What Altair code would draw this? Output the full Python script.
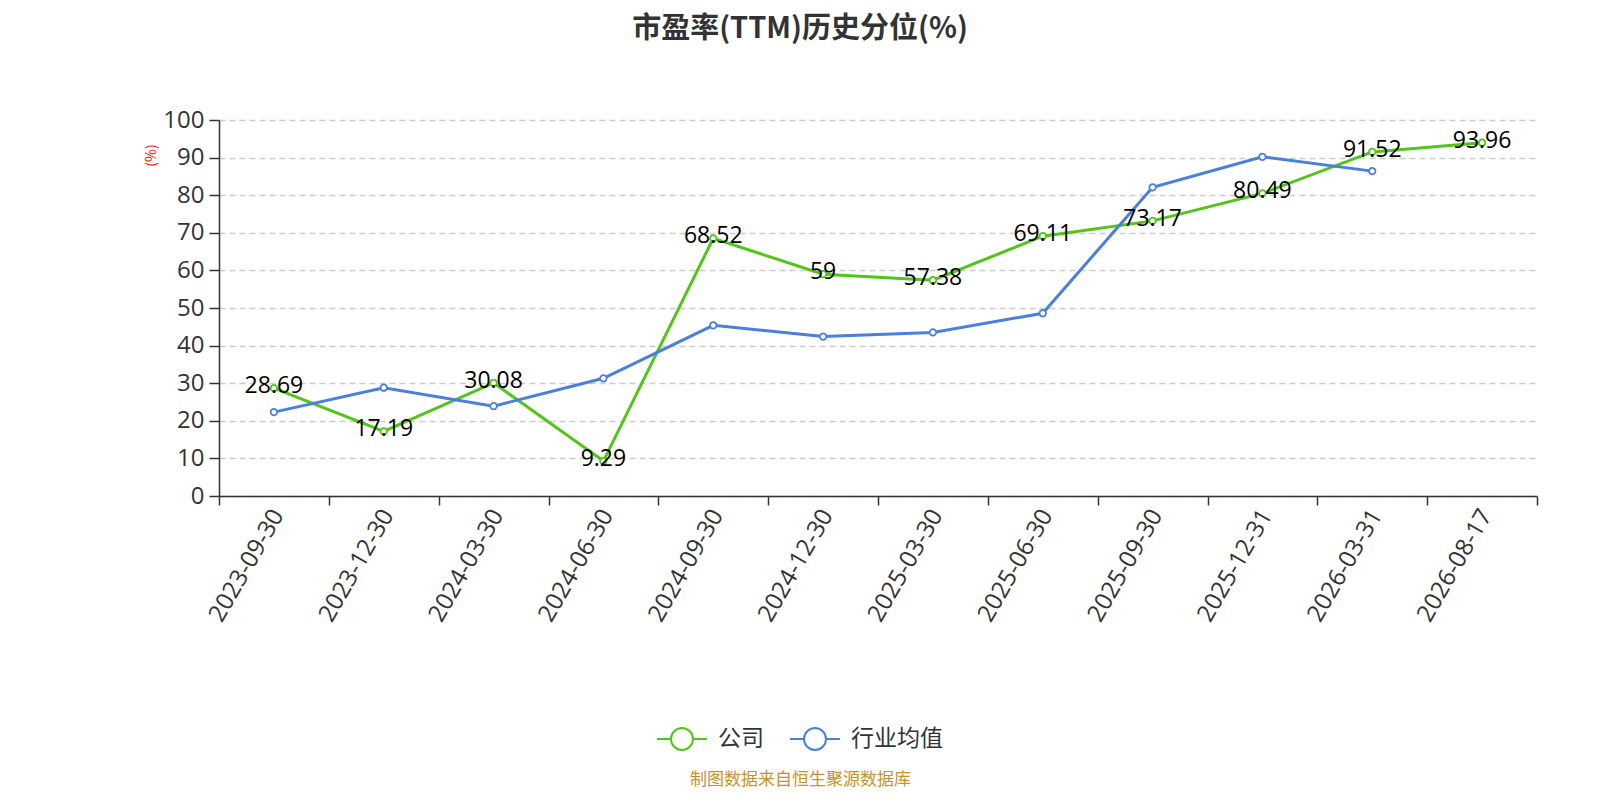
import altair as alt
import pandas as pd

dates = ["2023-09-30", "2023-12-30", "2024-03-30", "2024-06-30", "2024-09-30",
         "2024-12-30", "2025-03-30", "2025-06-30", "2025-09-30", "2025-12-31",
         "2026-03-31", "2026-08-17"]
company = [28.69, 17.19, 30.08, 9.29, 68.52, 59, 57.38, 69.11, 73.17, 80.49, 91.52, 93.96]
industry = [22.3, 28.8, 23.9, 31.3, 45.4, 42.4, 43.5, 48.6, 82.1, 90.2, 86.4]

series_names = ["公司", "行业均值"]
colors = ["#52c41a", "#4a7fe0"]

rows = []
for d, v in zip(dates, company):
    rows.append({"date": d, "value": v, "series": series_names[0]})
for d, v in zip(dates, industry):
    rows.append({"date": d, "value": v, "series": series_names[1]})
df = pd.DataFrame(rows)

CJK = "Noto Sans CJK SC"
NUM = "Open Sans, Noto Sans CJK SC"

legend_symbol = ("M-1,0L-0.46,0M0.46,0L1,0"
                 "M0.44,0A0.44,0.44 0 1 1 -0.44,0A0.44,0.44 0 1 1 0.44,0Z")

x_enc = alt.X(
    "date:O", sort=dates,
    scale=alt.Scale(type="band", paddingInner=0, paddingOuter=0),
    bandPosition=0.5,
    axis=alt.Axis(
        title="制图数据来自恒生聚源数据库",
        titleColor="#c8922a", titleFontSize=17, titleFontWeight="normal", titleFont=CJK,
        titleX=581, titleY=283, titleAnchor="middle", titleBaseline="middle",
        labelAngle=-60, labelAlign="right", labelBaseline="middle",
        labelFontSize=24, labelColor="#333333", labelPadding=6, labelOffset=4, labelFont=NUM,
        tickBand="extent", tickSize=9, tickColor="#333333", tickWidth=1.5,
        domainColor="#333333", domainWidth=1.5, grid=False,
    ),
)

y_enc = alt.Y(
    "value:Q",
    scale=alt.Scale(domain=[0, 100]),
    axis=alt.Axis(
        values=list(range(0, 101, 10)),
        title="(%)", titleColor="red", titleFontSize=14, titleFontWeight="normal", titleFont=CJK,
        titleAngle=-90, titleX=-61, titleY=35, titleAnchor="middle",
        labelFontSize=24, labelColor="#333333", labelPadding=5, labelFont=NUM,
        tickSize=10, tickColor="#333333", tickWidth=1.5, domainColor="#333333", domainWidth=1.5,
        grid=True, gridDash=[6, 4], gridColor="#cccccc", gridWidth=1.3,
    ),
)

color_enc = alt.Color(
    "series:N",
    scale=alt.Scale(domain=series_names, range=colors),
    legend=alt.Legend(
        title=None, orient="none", direction="horizontal",
        legendX=437, legendY=593,
        symbolType=legend_symbol, symbolSize=2500, symbolStrokeWidth=2,
        symbolFillColor="white", labelFontSize=23, labelColor="#333333",
        labelFont=CJK, columnPadding=22, labelOffset=10,
    ),
)

base = alt.Chart(df)

lines = base.mark_line(strokeWidth=3).encode(x=x_enc, y=y_enc, color=color_enc)
points = base.mark_point(filled=True, fill="white", size=42, strokeWidth=1.8, opacity=1).encode(
    x=x_enc, y=y_enc,
    stroke=alt.Stroke("series:N", scale=alt.Scale(domain=series_names, range=colors), legend=None),
)
labels = base.transform_filter(alt.datum.series == "公司").mark_text(
    fontSize=23, color="#000000", font=NUM, baseline="middle", dy=-2
).encode(x=x_enc, y=y_enc, text=alt.Text("value:Q", format="~g"))

chart = alt.layer(lines, points, labels).properties(
    width=1318, height=376,
    title=alt.TitleParams("市盈率(TTM)历史分位(%)", fontSize=29, fontWeight="bold",
                          color="#333333", font=CJK, anchor="middle", dx=-78, offset=64),
    autosize=alt.AutoSizeParams(type="none"),
    padding={"left": 211, "top": 112, "right": 30, "bottom": 294},
).configure_view(stroke=None)

chart.save("out.html", embed_options={"renderer": "svg", "actions": False})
